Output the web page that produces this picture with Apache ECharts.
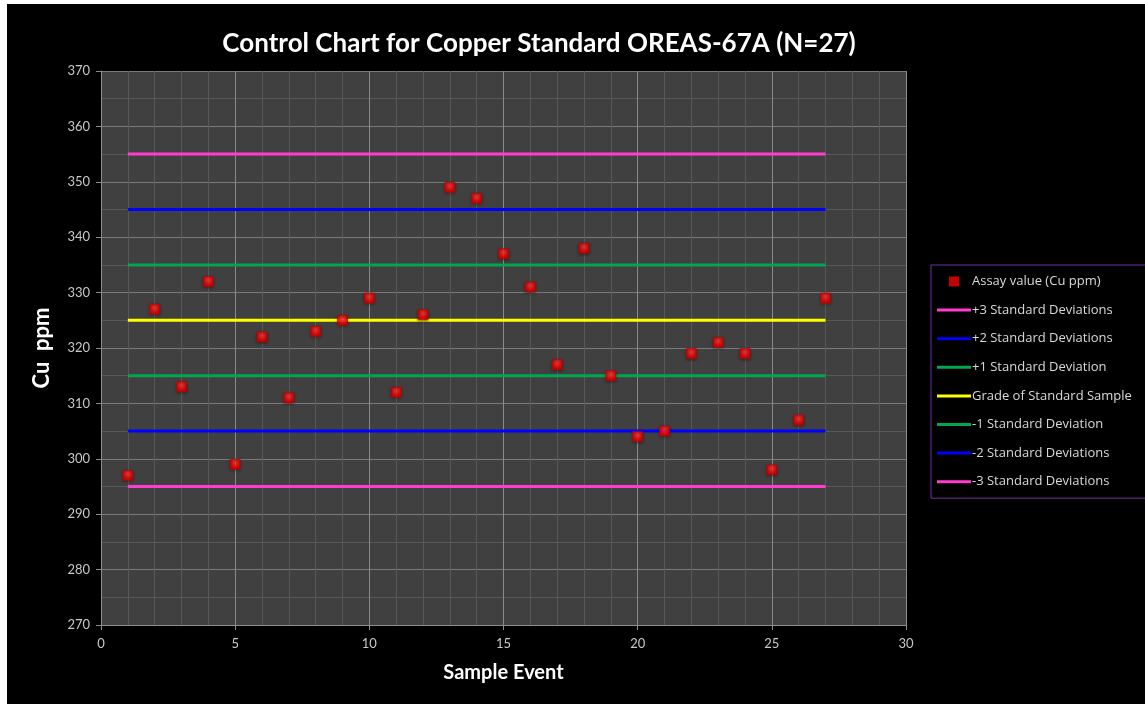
<!DOCTYPE html>
<html>
<head>
<meta charset="utf-8">
<script src="https://cdn.jsdelivr.net/npm/echarts@6/dist/echarts.min.js"></script>
<style>
html,body{margin:0;padding:0;background:#ffffff;width:1145px;height:704px;overflow:hidden;}
#chart{position:absolute;left:7px;top:4px;width:1138px;height:700px;}
</style>
</head>
<body>
<div id="chart"></div>
<script>
const sampleEvents = [1,2,3,4,5,6,7,8,9,10,11,12,13,14,15,16,17,18,19,20,21,22,23,24,25,26,27];
const assayValues = [297,327,313,332,299,322,311,323,325,329,312,326,349,347,337,331,317,338,315,304,305,319,321,319,298,307,329];
const limitNames = ['+3 Standard Deviations','+2 Standard Deviations','+1 Standard Deviation','Grade of Standard Sample','-1 Standard Deviation','-2 Standard Deviations','-3 Standard Deviations'];
const limitValues = [355,345,335,325,315,305,295];
const limitColors = ['#ff3ccf','#0000ff','#00a650','#ffff00','#00a650','#0000ff','#ff3ccf'];
const assayName = 'Assay value (Cu ppm)';
const xTicks = [0,30,5];
const yTicks = [270,370,10];

const chart = echarts.init(document.getElementById('chart'));
const font = 'Lato, "Open Sans", sans-serif';
const first = sampleEvents[0], last = sampleEvents[sampleEvents.length-1];

const series = [{
  name: assayName,
  type: 'scatter',
  data: sampleEvents.map((x,i)=>[x, assayValues[i]]),
  symbol: 'rect',
  symbolSize: 10,
  z: 5,
  itemStyle: {
    color: {type: 'radial', x: 0.5, y: 0.35, r: 0.7, colorStops: [{offset: 0, color: '#ff4040'}, {offset: 0.6, color: '#ff0000'}, {offset: 1, color: '#d00000'}]},
    borderColor: '#c00000', borderWidth: 0.8,
    shadowColor: 'rgba(0,0,0,0.5)', shadowBlur: 3, shadowOffsetY: 1
  }
}];
limitNames.forEach((n,i)=>{
  series.push({
    name: n,
    type: 'line',
    data: [[first, limitValues[i]], [last, limitValues[i]]],
    symbol: 'none',
    lineStyle: {color: limitColors[i], width: 3},
    itemStyle: {color: limitColors[i]},
    z: 3
  });
});

const legendData = [{name: assayName, icon: 'path://M0,0h10v10h-10z', itemStyle: {color: '#f80000', borderWidth: 0}}]
  .concat(limitNames.map(n => ({name: n, icon: 'path://M0,0h34v3h-34z'})));

chart.setOption({
  backgroundColor: '#000000',
  animation: false,
  title: {
    text: 'Control Chart for Copper Standard OREAS-67A (N=27)',
    left: 527, top: 22, textAlign: 'center',
    textStyle: {color: '#ffffff', fontFamily: font, fontWeight: 'bold', fontSize: 26}
  },
  legend: {
    orient: 'vertical',
    left: 924, top: 261,
    data: legendData,
    itemWidth: 34, itemHeight: 10,
    itemGap: 15.6,
    padding: [10, 30, 10, 6],
    borderColor: '#7030a0', borderWidth: 1,
    textStyle: {color: '#d9d9d9', fontFamily: '"Open Sans", sans-serif', fontSize: 13, padding: [0,0,0,-4]},
    symbolKeepAspect: true
  },
  grid: {
    left: 94, top: 67, width: 805, height: 554,
    show: true, backgroundColor: '#404040', borderWidth: 0
  },
  xAxis: {
    type: 'value', min: xTicks[0], max: xTicks[1], interval: xTicks[2],
    name: 'Sample Event', nameLocation: 'middle', nameGap: 38,
    nameTextStyle: {color: '#ffffff', fontFamily: font, fontWeight: 'bold', fontSize: 20},
    axisLine: {show: true, lineStyle: {color: '#8c8c8c', width: 1}},
    axisTick: {show: true, length: 5, lineStyle: {color: '#8c8c8c'}},
    axisLabel: {color: '#c8c8c8', fontFamily: font, fontSize: 13, margin: 12},
    splitLine: {show: true, lineStyle: {color: '#8a8a8a', width: 1}},
    minorTick: {show: false, splitNumber: 5},
    minorSplitLine: {show: true, lineStyle: {color: '#585858', width: 1}}
  },
  yAxis: {
    type: 'value', min: yTicks[0], max: yTicks[1], interval: yTicks[2],
    name: 'Cu  ppm', nameLocation: 'middle', nameGap: 48, nameRotate: 90,
    nameTextStyle: {color: '#ffffff', fontFamily: font, fontWeight: 'bold', fontSize: 22},
    axisLine: {show: true, lineStyle: {color: '#8c8c8c', width: 1}},
    axisTick: {show: true, length: 5, lineStyle: {color: '#8c8c8c'}},
    axisLabel: {color: '#c8c8c8', fontFamily: font, fontSize: 13, margin: 11},
    splitLine: {show: true, lineStyle: {color: '#7a7a7a', width: 1}},
    minorTick: {show: false, splitNumber: 2},
    minorSplitLine: {show: true, lineStyle: {color: '#585858', width: 1}}
  },
  series: series
});
</script>
</body>
</html>
